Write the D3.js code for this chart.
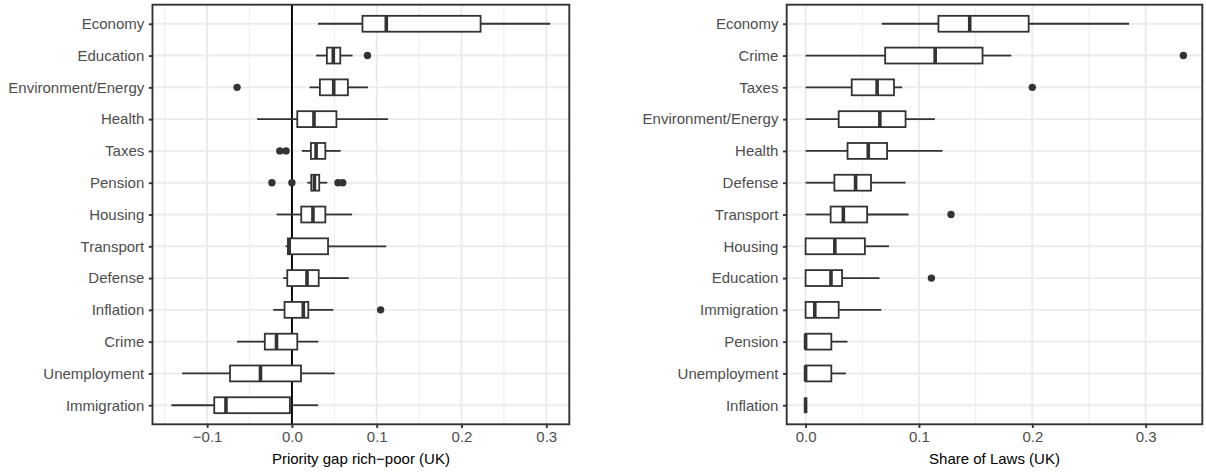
<!DOCTYPE html>
<html>
<head>
<meta charset="utf-8">
<script src="https://cdn.jsdelivr.net/npm/d3@7"></script>
<style>
  body { margin: 0; background: #ffffff; }
  text { font-family: "Liberation Sans", Arial, Helvetica, sans-serif; }
</style>
</head>
<body>
<svg id="chart" width="1206" height="473"></svg>
<script>
// ---- Priority gap rich−poor (UK): box statistics per policy area ----
const gapCategories = ["Economy", "Education", "Environment/Energy", "Health", "Taxes", "Pension",
  "Housing", "Transport", "Defense", "Inflation", "Crime", "Unemployment", "Immigration"];
const gapLower  = [0.0308, 0.0285, 0.0208, -0.0410, 0.0118, 0.0181, -0.0181, -0.0075, -0.0103, -0.0221, -0.0647, -0.1295, -0.1421];
const gapQ1     = [0.0832, 0.0412, 0.0330,  0.0063, 0.0224, 0.0228,  0.0110, -0.0047, -0.0055, -0.0087, -0.0320, -0.0730, -0.0916];
const gapMedian = [0.1113, 0.0488, 0.0493,  0.0260, 0.0285, 0.0265,  0.0248, -0.0032,  0.0178,  0.0134, -0.0182, -0.0371, -0.0778];
const gapQ3     = [0.2225, 0.0570, 0.0660,  0.0525, 0.0394, 0.0322,  0.0394,  0.0426,  0.0316,  0.0193,  0.0063,  0.0107, -0.0024];
const gapUpper  = [0.3048, 0.0715, 0.0896,  0.1134, 0.0575, 0.0417,  0.0710,  0.1113,  0.0671,  0.0489,  0.0312,  0.0505,  0.0308];
const gapOutliers = [[], [0.0891], [-0.0647], [], [-0.0143, -0.0069], [-0.0236, 0.0, 0.0543, 0.0599],
  [], [], [], [0.1046], [], [], []];
const gapTicks = [-0.1, 0, 0.1, 0.2, 0.3];
const gapTickLabels = ["\u22120.1", "0.0", "0.1", "0.2", "0.3"];
const gapMinorTicks = [-0.15, -0.05, 0.05, 0.15, 0.25];

// ---- Share of Laws (UK): box statistics per policy area ----
const lawCategories = ["Economy", "Crime", "Taxes", "Environment/Energy", "Health", "Defense",
  "Transport", "Housing", "Education", "Immigration", "Pension", "Unemployment", "Inflation"];
const lawLower  = [0.0672, 0, 0, 0, 0, 0, 0, 0, 0, 0, 0, 0, 0];
const lawQ1     = [0.1172, 0.0702, 0.0407, 0.0292, 0.0370, 0.0254, 0.0221, 0, 0, 0, 0, 0, 0];
const lawMedian = [0.1448, 0.1143, 0.0631, 0.0655, 0.0553, 0.0441, 0.0333, 0.0258, 0.0224, 0.0081, 0, 0, 0];
const lawQ3     = [0.1968, 0.1561, 0.0780, 0.0882, 0.0719, 0.0577, 0.0543, 0.0523, 0.0322, 0.0292, 0.0227, 0.0227, 0];
const lawUpper  = [0.2854, 0.1815, 0.0852, 0.1140, 0.1208, 0.0882, 0.0909, 0.0736, 0.0652, 0.0668, 0.0370, 0.0356, 0];
const lawOutliers = [[], [0.3333], [0.2], [], [], [], [0.1283], [], [0.111], [], [], [], []];
const lawTicks = [0, 0.1, 0.2, 0.3];
const lawTickLabels = ["0.0", "0.1", "0.2", "0.3"];
const lawMinorTicks = [0.05, 0.15, 0.25];

const svg = d3.select("#chart");
const FONT = 15;
const INK = "#333333";
const GRID = "#ebebeb";

function drawPanel(opt) {
  const { left, right, top, bottom, cats, lower, q1, median, q3, upper, outliers,
          ticks, tickLabels, minor, title, zeroLine } = opt;

  // Data extent with 5% expansion on both sides
  const all = lower.concat(upper, ...outliers);
  const [lo, hi] = d3.extent(all);
  const pad = (hi - lo) * 0.05;
  const x = d3.scaleLinear().domain([lo - pad, hi + pad]).range([left, right]);
  const y = d3.scalePoint().domain(cats).range([top, bottom]).padding(0.6);
  const boxH = y.step() * 0.5;

  const g = svg.append("g");

  g.append("rect").attr("x", left).attr("y", top)
    .attr("width", right - left).attr("height", bottom - top).attr("fill", "#fff");

  // minor vertical grid
  g.selectAll(".minor").data(minor.filter(v => x(v) > left && x(v) < right)).join("line")
    .attr("x1", d => x(d)).attr("x2", d => x(d)).attr("y1", top).attr("y2", bottom)
    .attr("stroke", GRID).attr("stroke-width", 0.95);
  // major vertical grid
  g.selectAll(".major").data(ticks).join("line")
    .attr("x1", d => x(d)).attr("x2", d => x(d)).attr("y1", top).attr("y2", bottom)
    .attr("stroke", GRID).attr("stroke-width", 1.9);
  // horizontal grid at each category
  g.selectAll(".hgrid").data(cats).join("line")
    .attr("x1", left).attr("x2", right).attr("y1", d => y(d)).attr("y2", d => y(d))
    .attr("stroke", GRID).attr("stroke-width", 1.9);

  if (zeroLine) {
    g.append("line").attr("x1", x(0)).attr("x2", x(0)).attr("y1", top).attr("y2", bottom)
      .attr("stroke", "#000").attr("stroke-width", 1.9);
  }

  const rows = cats.map((c, i) => ({
    c, lo: lower[i], q1: q1[i], med: median[i], q3: q3[i], hi: upper[i], out: outliers[i]
  }));

  const rg = g.selectAll(".row").data(rows).join("g");
  // whiskers
  rg.append("line").attr("x1", d => x(d.lo)).attr("x2", d => x(d.q1))
    .attr("y1", d => y(d.c)).attr("y2", d => y(d.c))
    .attr("stroke", INK).attr("stroke-width", 1.8);
  rg.append("line").attr("x1", d => x(d.q3)).attr("x2", d => x(d.hi))
    .attr("y1", d => y(d.c)).attr("y2", d => y(d.c))
    .attr("stroke", INK).attr("stroke-width", 1.8);
  // boxes
  rg.append("rect").attr("x", d => x(d.q1)).attr("width", d => x(d.q3) - x(d.q1))
    .attr("y", d => y(d.c) - boxH / 2).attr("height", boxH)
    .attr("fill", "#fff").attr("stroke", INK).attr("stroke-width", 1.8);
  // medians
  rg.append("line").attr("x1", d => x(d.med)).attr("x2", d => x(d.med))
    .attr("y1", d => y(d.c) - boxH / 2).attr("y2", d => y(d.c) + boxH / 2)
    .attr("stroke", INK).attr("stroke-width", 3.6);
  // outliers
  rg.selectAll("circle").data(d => d.out.map(v => ({ v, c: d.c }))).join("circle")
    .attr("cx", d => x(d.v)).attr("cy", d => y(d.c)).attr("r", 3.7).attr("fill", INK);

  // panel border
  g.append("rect").attr("x", left).attr("y", top)
    .attr("width", right - left).attr("height", bottom - top)
    .attr("fill", "none").attr("stroke", INK).attr("stroke-width", 1.9);

  // axes
  const xAxis = d3.axisBottom(x).tickValues(ticks)
    .tickFormat((d, i) => tickLabels[i]).tickSize(3.67).tickPadding(3.2);
  const ax = g.append("g").attr("transform", `translate(0,${bottom})`).call(xAxis);
  const yAxis = d3.axisLeft(y).tickSize(3.67).tickPadding(4.6);
  const ay = g.append("g").attr("transform", `translate(${left},0)`).call(yAxis);
  [ax, ay].forEach(a => {
    a.select(".domain").remove();
    a.selectAll(".tick line").attr("stroke", INK).attr("stroke-width", 1.9);
    a.selectAll(".tick text").attr("fill", "#4d4d4d").style("font-size", FONT + "px")
      .style("font-family", '"Liberation Sans", Arial, sans-serif');
  });

  g.append("text").attr("x", (left + right) / 2).attr("y", 463.5)
    .attr("text-anchor", "middle").attr("fill", "#000")
    .style("font-size", FONT + "px").text(title);
}

drawPanel({
  left: 152.5, right: 569.3, top: 4.7, bottom: 424.3,
  cats: gapCategories, lower: gapLower, q1: gapQ1, median: gapMedian, q3: gapQ3,
  upper: gapUpper, outliers: gapOutliers,
  ticks: gapTicks, tickLabels: gapTickLabels, minor: gapMinorTicks,
  title: "Priority gap rich\u2212poor (UK)", zeroLine: true
});

drawPanel({
  left: 786.7, right: 1202.3, top: 4.7, bottom: 424.3,
  cats: lawCategories, lower: lawLower, q1: lawQ1, median: lawMedian, q3: lawQ3,
  upper: lawUpper, outliers: lawOutliers,
  ticks: lawTicks, tickLabels: lawTickLabels, minor: lawMinorTicks,
  title: "Share of Laws (UK)", zeroLine: false
});
</script>
</body>
</html>
